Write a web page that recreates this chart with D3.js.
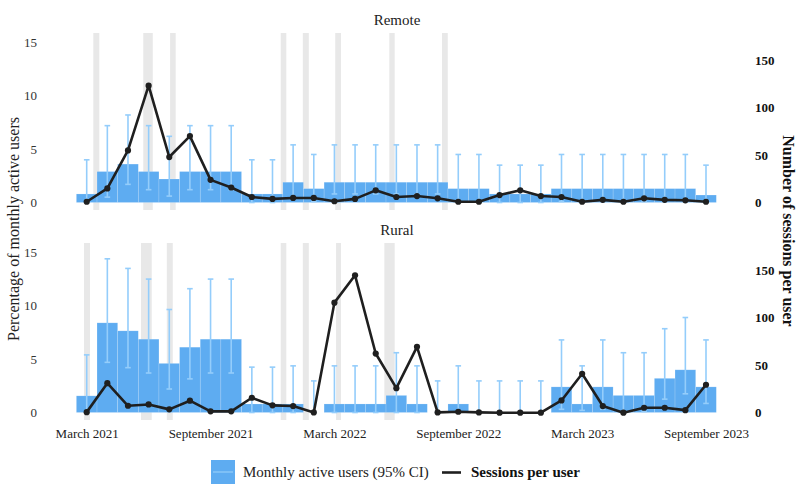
<!DOCTYPE html>
<html>
<head>
<meta charset="utf-8">
<script src="https://cdn.jsdelivr.net/npm/d3@7"></script>
<style>
body { margin: 0; background: #fff; }
svg text { font-family: "Liberation Serif", "DejaVu Serif", serif; }
</style>
</head>
<body>
<div id="chart"></div>
<script>
// months Mar 2021 .. Sep 2023
var months = ["2021-03","2021-04","2021-05","2021-06","2021-07","2021-08","2021-09","2021-10","2021-11","2021-12",
              "2022-01","2022-02","2022-03","2022-04","2022-05","2022-06","2022-07","2022-08","2022-09","2022-10",
              "2022-11","2022-12","2023-01","2023-02","2023-03","2023-04","2023-05","2023-06","2023-07","2023-08","2023-09"];
var tickMonths = ["2021-03","2021-09","2022-03","2022-09","2023-03","2023-09"];
var tickLabels = ["March 2021","September 2021","March 2022","September 2022","March 2023","September 2023"];

// Remote panel
var remoteMau   = [0.8,2.9,3.6,2.9,2.2,2.9,2.9,2.9,0.8,0.8,1.9,1.3,1.9,1.9,1.9,1.9,1.9,1.9,1.3,1.3,0.8,0.8,0.8,1.3,1.3,1.3,1.3,1.3,1.3,1.3,0.7];
var remoteLo    = [0,0.5,1.7,1.2,0.6,1.2,1.2,1.2,0,0,0.3,0.1,0.8,0.8,0.8,0.8,0.8,0.8,0.1,0.1,0,0,0,0.1,0.1,0.1,0.1,0.1,0.1,0.1,0];
var remoteHi    = [4.0,7.2,8.2,7.2,6.2,7.2,7.2,7.2,4.0,4.0,5.4,4.5,5.4,5.4,5.4,5.4,5.4,5.4,4.5,4.5,3.5,3.5,3.5,4.5,4.5,4.5,4.5,4.5,4.5,4.5,3.5];
var remoteSess  = [1,15,55,123,48,70,24,16,6,4,5,5,1.5,4,13,6,7,4.6,1,1,8,13,7,6,1,3,1,4.6,3,2.5,1];
var remoteShade = [[0.32,0.61],[2.74,3.2],[4.04,4.31],[9.4,9.67],[10.47,10.76],[12.04,12.32],[14.66,14.92],[17.21,17.49]];

// Rural panel (null = no bar)
var ruralMau    = [1.56,8.4,7.65,6.87,4.6,6.12,6.87,6.87,0.8,0.8,0.8,null,0.8,0.8,0.8,1.6,0.8,null,0.8,null,null,null,null,2.4,0.8,2.4,1.6,1.6,3.2,4.0,2.4];
var ruralLo     = [0,4.7,4.2,3.7,2.2,3.15,3.7,3.7,0,0,0,0,0,0,0,0,0,0,0,0,0,0,0,0.3,0.2,0.3,0.1,0.1,1.25,1.75,0.85];
var ruralHi     = [5.4,14.4,13.5,12.5,9.65,11.6,12.5,12.5,4.25,4.25,4.37,2.96,4.37,4.37,4.37,5.6,4.37,2.96,4.37,2.96,2.96,2.96,2.96,6.8,4.37,6.8,5.6,5.6,7.85,8.9,6.8];
var ruralSess   = [0.6,31,7.3,8.7,3.5,12.6,1.4,1.4,15.7,7.7,7,0.3,115.7,144.4,62.2,25.8,69.2,0.3,1,0.3,0,0,0,12.9,40.9,7,0,5.2,5.2,2.7,29.4];
var ruralShade  = [[-0.13,0.16],[2.63,3.15],[3.88,4.17],[9.4,9.67],[10.47,10.76],[12.08,12.32],[14.42,14.92]];

var panelTitles = ["Remote","Rural"];
var leftTicks = [0,5,10,15];
var rightTicks = [0,50,100,150];

const width = 800, height = 500;
var barColor = "#5eacf1", ciColor = "#94cdfb", shadeColor = "#e8e8e8", lineColor = "#1f1f1f";

var svg = d3.select("#chart").append("svg")
    .attr("width", width).attr("height", height);

// month index -> pixel
var x = d3.scaleLinear().domain([0, months.length - 1]).range([86.7, 706]);
var bw = x(1) - x(0);

var panels = [
    {title: panelTitles[0], top: 33, mau: remoteMau, lo: remoteLo, hi: remoteHi, sess: remoteSess, shade: remoteShade},
    {title: panelTitles[1], top: 243, mau: ruralMau, lo: ruralLo, hi: ruralHi, sess: ruralSess, shade: ruralShade}
];

panels.forEach(function(p){
    var ph = 177;
    var yL = d3.scaleLinear().domain([0, 15]).range([p.top + 169.5, p.top + 9.4]);
    var yR = d3.scaleLinear().domain([0, 150]).range([p.top + 169.7, p.top + 27]);
    var g = svg.append("g");

    // shaded periods
    g.selectAll(".shade").data(p.shade).enter().append("rect")
        .attr("x", d => x(d[0]))
        .attr("width", d => x(d[1]) - x(d[0]))
        .attr("y", p.top).attr("height", ph)
        .attr("fill", shadeColor);

    // bars
    var bars = p.mau.map((v, i) => ({i: i, v: v})).filter(d => d.v != null);
    g.selectAll(".bar").data(bars).enter().append("rect")
        .attr("x", d => x(d.i - 0.5))
        .attr("width", bw)
        .attr("y", d => yL(d.v))
        .attr("height", d => yL(0) - yL(d.v))
        .attr("fill", barColor)
        .attr("stroke", "rgba(255,255,255,0.25)")
        .attr("stroke-width", 0.6);

    // error bars
    var ci = p.hi.map((h, i) => ({i: i, lo: p.lo[i], hi: h}));
    var eg = g.selectAll(".ci").data(ci).enter().append("g")
        .attr("stroke", ciColor).attr("stroke-width", 1.6);
    eg.append("line")
        .attr("x1", d => x(d.i)).attr("x2", d => x(d.i))
        .attr("y1", d => yL(d.lo)).attr("y2", d => yL(d.hi));
    eg.append("line")
        .attr("x1", d => x(d.i) - 2.8).attr("x2", d => x(d.i) + 2.8)
        .attr("y1", d => yL(d.hi)).attr("y2", d => yL(d.hi));
    eg.append("line")
        .attr("x1", d => x(d.i) - 2.8).attr("x2", d => x(d.i) + 2.8)
        .attr("y1", d => yL(d.lo)).attr("y2", d => yL(d.lo));

    // sessions line
    var line = d3.line().x((d, i) => x(i)).y(d => yR(d));
    g.append("path")
        .attr("d", line(p.sess))
        .attr("fill", "none")
        .attr("stroke", lineColor)
        .attr("stroke-width", 2.6)
        .attr("stroke-linejoin", "round");
    g.selectAll(".pt").data(p.sess).enter().append("circle")
        .attr("cx", (d, i) => x(i))
        .attr("cy", d => yR(d))
        .attr("r", 3.1)
        .attr("fill", lineColor);

    // left axis
    var la = svg.append("g")
        .attr("transform", "translate(44,0)")
        .call(d3.axisLeft(yL).tickValues(leftTicks).tickSize(0).tickPadding(7));
    la.select(".domain").remove();
    la.selectAll("text").attr("font-size", 13).attr("fill", "#333")
        .style("font-family", "Liberation Serif");

    // right axis
    var ra = svg.append("g")
        .attr("transform", "translate(748,0)")
        .call(d3.axisRight(yR).tickValues(rightTicks).tickSize(0).tickPadding(7));
    ra.select(".domain").remove();
    ra.selectAll("text").attr("font-size", 13).attr("font-weight", "bold").attr("fill", "#111")
        .style("font-family", "Liberation Serif");

    // panel title
    svg.append("text")
        .attr("x", 397).attr("y", p.top - 8)
        .attr("text-anchor", "middle")
        .attr("font-size", 15)
        .attr("fill", "#222")
        .text(p.title);
});

// x axis (bottom panel only)
var xa = svg.append("g")
    .attr("transform", "translate(0,420)")
    .call(d3.axisBottom(x)
        .tickValues(tickMonths.map(m => months.indexOf(m)))
        .tickFormat((d, i) => tickLabels[i])
        .tickSize(0).tickPadding(9));
xa.select(".domain").remove();
xa.selectAll("text").attr("font-size", 13).attr("fill", "#222")
    .style("font-family", "Liberation Serif");

// axis titles
svg.append("text")
    .attr("transform", "translate(19,229) rotate(-90)")
    .attr("text-anchor", "middle")
    .attr("font-size", 16)
    .attr("fill", "#222")
    .text("Percentage of monthly active users");
svg.append("text")
    .attr("transform", "translate(783,231) rotate(90)")
    .attr("text-anchor", "middle")
    .attr("font-size", 16)
    .attr("font-weight", "bold")
    .attr("fill", "#111")
    .text("Number of sessions per user");

// legend
var lg = svg.append("g");
lg.append("rect").attr("x", 211).attr("y", 460).attr("width", 24).attr("height", 24).attr("fill", barColor);
lg.append("line").attr("x1", 213).attr("x2", 233).attr("y1", 472).attr("y2", 472)
    .attr("stroke", ciColor).attr("stroke-width", 1.2);
lg.append("text").attr("x", 243).attr("y", 477).attr("font-size", 15).attr("fill", "#222")
    .text("Monthly active users (95% CI)");
lg.append("line").attr("x1", 442).attr("x2", 461).attr("y1", 472.5).attr("y2", 472.5)
    .attr("stroke", lineColor).attr("stroke-width", 2.6);
lg.append("text").attr("x", 471).attr("y", 477).attr("font-size", 15).attr("font-weight", "bold").attr("fill", "#111")
    .text("Sessions per user");
</script>
</body>
</html>
